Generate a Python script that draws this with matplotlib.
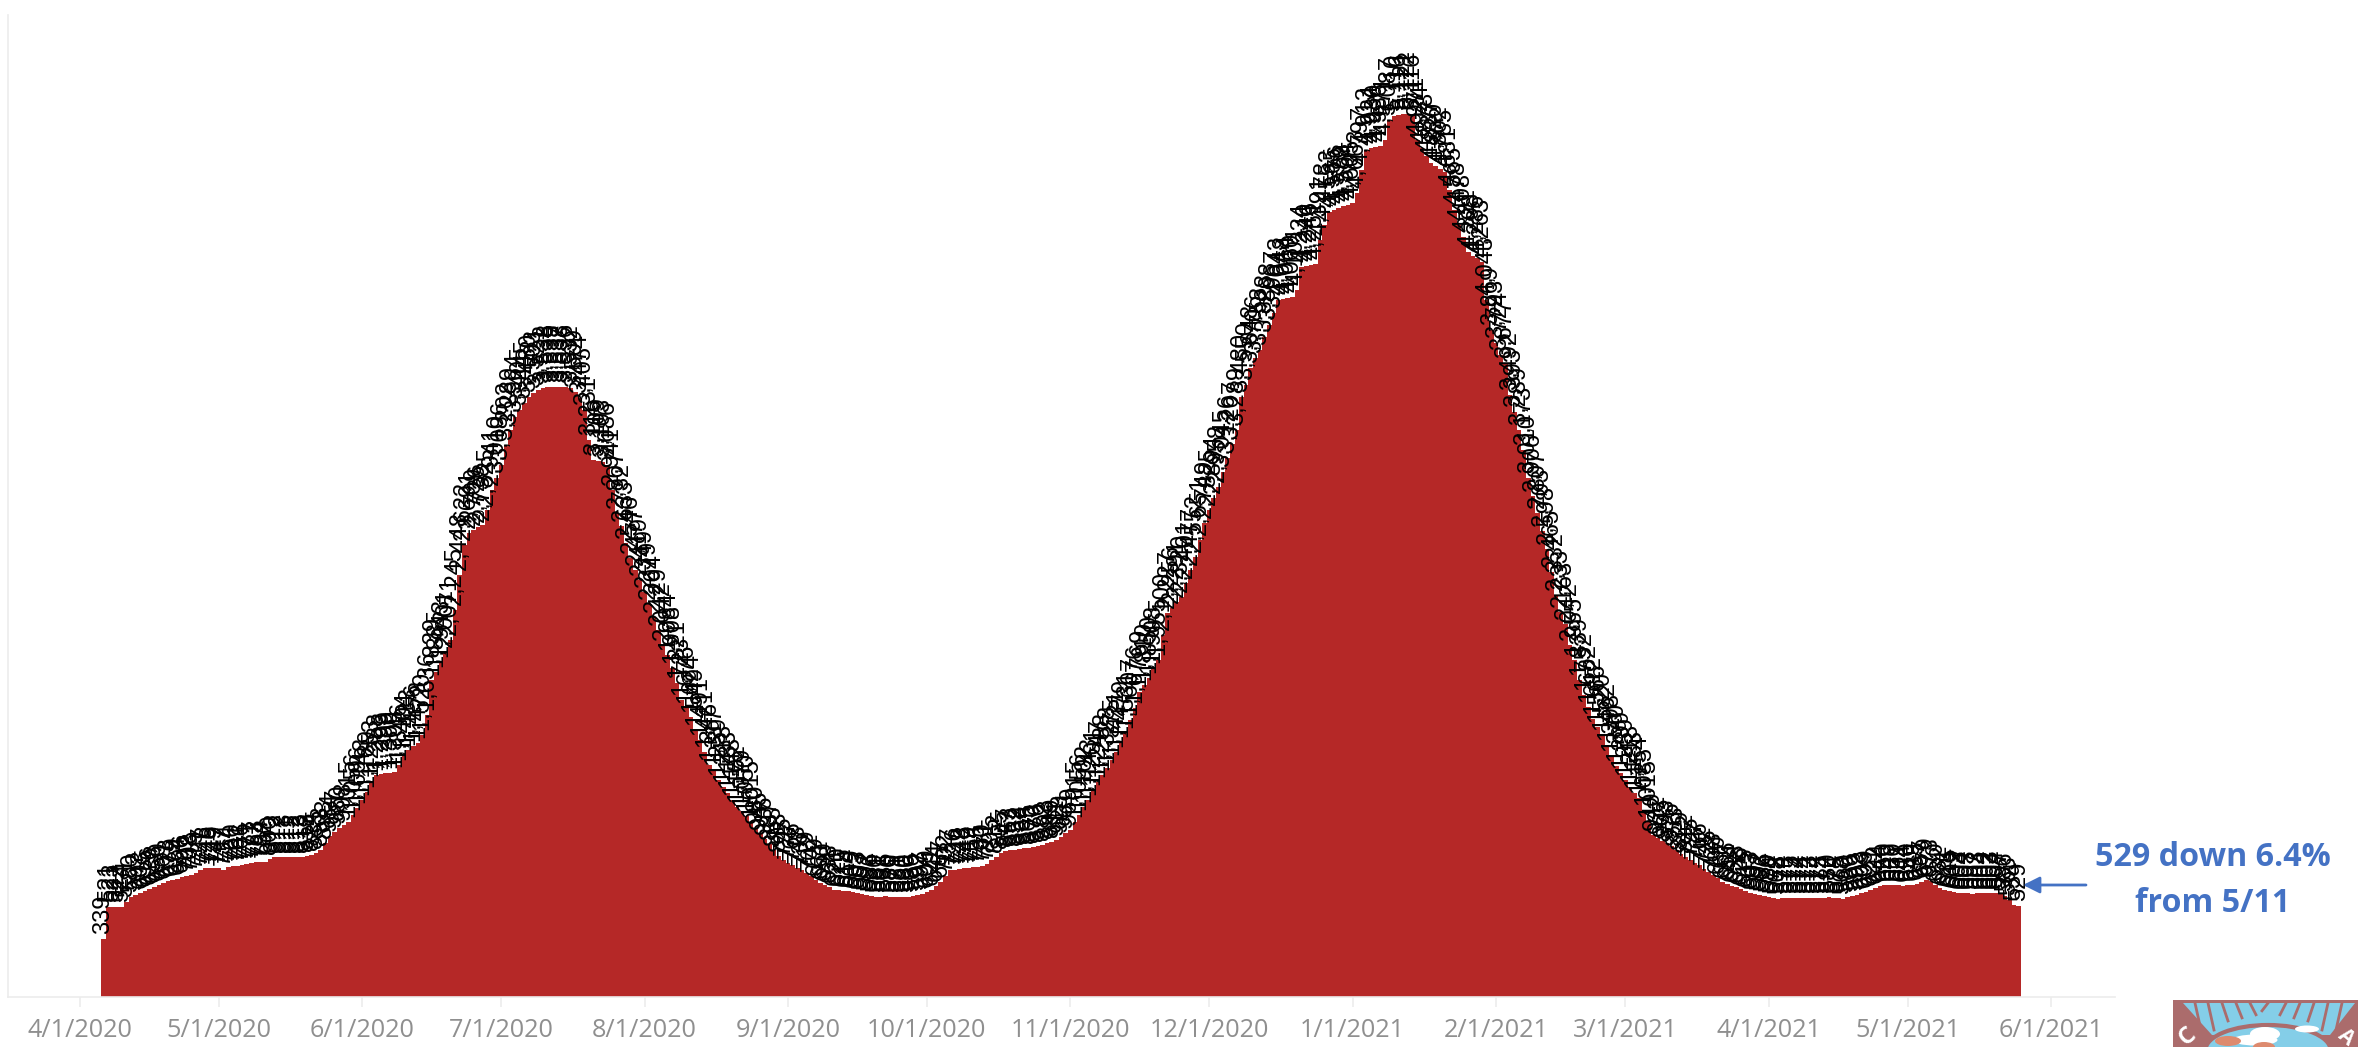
import pandas as pd
import matplotlib
matplotlib.use('Agg')
import matplotlib.pyplot as plt
from matplotlib.patches import Ellipse, Polygon, Rectangle

start_date = '2020-04-06'

values = [
    339, 521, 523, 522, 524, 551, 580, 592, 603, 615, 626, 638, 650, 661, 673, 679,
    684, 696, 702, 708, 719, 737, 748, 748, 749, 747, 737, 754, 760, 761, 766, 771,
    777, 783, 784, 782, 800, 812, 812, 813, 811, 812, 812, 813, 818, 824, 835, 853,
    893, 934, 957, 980, 998, 1015, 1056, 1096, 1143, 1189, 1253, 1288, 1293, 1299, 1300, 1305,
    1346, 1404, 1433, 1456, 1473, 1520, 1636, 1839, 1885, 1943, 2001, 2071, 2245, 2448, 2622, 2691,
    2709, 2726, 2738, 2825, 2941, 3010, 3086, 3202, 3289, 3364, 3405, 3445, 3480, 3503, 3521, 3532,
    3538, 3539, 3537, 3538, 3536, 3532, 3509, 3474, 3405, 3231, 3115, 3109, 3103, 3086, 2941, 2807,
    2732, 2633, 2546, 2477, 2419, 2349, 2279, 2204, 2129, 2042, 1984, 1908, 1821, 1723, 1676, 1624,
    1549, 1491, 1421, 1346, 1317, 1259, 1218, 1183, 1143, 1102, 1079, 1050, 1015, 980, 945, 916,
    887, 853, 818, 795, 777, 766, 748, 737, 719, 702, 679, 661, 650, 638, 621, 620,
    615, 614, 609, 603, 597, 592, 586, 580, 581, 586, 580, 579, 581, 580, 580, 586,
    592, 597, 609, 621, 644, 667, 702, 737, 736, 742, 748, 749, 754, 755, 760, 771,
    795, 812, 835, 847, 853, 852, 858, 864, 865, 870, 876, 882, 893, 899, 911, 928,
    951, 969, 1015, 1056, 1102, 1143, 1201, 1247, 1288, 1328, 1375, 1421, 1479, 1531, 1607, 1676,
    1769, 1810, 1850, 1908, 1955, 2100, 2227, 2256, 2291, 2320, 2401, 2477, 2552, 2651, 2749, 2825,
    2894, 2958, 3045, 3126, 3207, 3289, 3480, 3550, 3648, 3706, 3753, 3828, 3898, 3967, 4043, 4048,
    4054, 4060, 4101, 4234, 4240, 4246, 4251, 4391, 4478, 4553, 4565, 4576, 4588, 4594, 4605, 4663,
    4797, 4913, 4924, 4930, 4936, 4971, 5087, 5110, 5116, 5121, 5122, 5116, 4971, 4924, 4878, 4837,
    4820, 4802, 4785, 4681, 4565, 4478, 4408, 4321, 4298, 4286, 4263, 4043, 3869, 3793, 3724, 3677,
    3492, 3393, 3289, 3173, 3010, 2906, 2807, 2703, 2598, 2465, 2332, 2233, 2163, 2042, 1955, 1839,
    1752, 1682, 1612, 1566, 1520, 1462, 1398, 1340, 1299, 1259, 1218, 1183, 1154, 1085, 1015, 940,
    922, 905, 893, 876, 853, 829, 812, 795, 777, 766, 742, 725, 708, 690, 667, 655,
    644, 638, 626, 615, 603, 597, 592, 586, 580, 574, 568, 574, 573, 575, 574, 574,
    574, 573, 574, 575, 574, 580, 574, 575, 568, 580, 586, 592, 603, 609, 621, 632,
    644, 650, 649, 650, 651, 644, 650, 649, 655, 667, 679, 673, 650, 632, 621, 615,
    609, 603, 604, 603, 597, 603, 604, 602, 603, 604, 597, 586, 563, 534, 529,
]

tick_labels = ['4/1/2020', '5/1/2020', '6/1/2020', '7/1/2020', '8/1/2020', '9/1/2020', '10/1/2020',
               '11/1/2020', '12/1/2020', '1/1/2021', '2/1/2021', '3/1/2021', '4/1/2021', '5/1/2021', '6/1/2021']

W = 2358
H = 1047
dates = pd.date_range(start_date, periods=len(values))
tick_dates = pd.to_datetime(tick_labels, format='%m/%d/%Y')

fig = plt.figure(figsize=(W / 100, H / 100), dpi=100)

# axes box in pixels of the reference
left, right, top, bottom = 8, 2115, 15, 997
ax = fig.add_axes([left / W, 1 - bottom / H, (right - left) / W, (bottom - top) / H])

ax.bar(dates, values, width=1.0, color='#B52827', linewidth=0)

for d, v in zip(dates, values):
    ax.annotate(f'{v:,}', (d, v), xytext=(0, 3.5), textcoords='offset points', rotation=90,
                ha='center', va='bottom', fontsize=17, color='black',
                family='Liberation Sans', fontweight='light')

ax.set_xlim(pd.Timestamp('2020-04-01') - pd.Timedelta(days=15.6),
            pd.Timestamp('2020-04-01') + pd.Timedelta(days=439.8))
ax.set_ylim(0, (bottom - top) * 5.8)
ax.set_yticks([])
ax.set_xticks(tick_dates)
ax.set_xticklabels(tick_labels, family='Open Sans', fontsize=18.2, color='#8f8f8f')
ax.tick_params(axis='x', length=7, width=1.2, color='#ececec', pad=8)

for s in ['top', 'right']:
    ax.spines[s].set_visible(False)
for s in ['left', 'bottom']:
    ax.spines[s].set_color('#ececec')
    ax.spines[s].set_linewidth(1.2)

blue = '#4472C4'
fig.text(2213 / W, 1 - 858 / H, '529 down 6.4%', color=blue, fontsize=23.2, fontweight='bold',
         family='Open Sans', ha='center', va='center')
fig.text(2213 / W, 1 - 904 / H, 'from 5/11', color=blue, fontsize=23.2, fontweight='bold',
         family='Open Sans', ha='center', va='center')
ax.annotate('', xy=(2023, H - 885), xytext=(2086, H - 885), xycoords='figure pixels',
            textcoords='figure pixels',
            arrowprops=dict(arrowstyle='-|>,head_length=1.0,head_width=0.5', color=blue, lw=2,
                            shrinkA=0, shrinkB=0))

# cropped logo in the bottom right corner
lg = fig.add_axes([2173 / W, 0, (W - 2173) / W, 47 / H])
lg.set_xlim(2173, 2358)
lg.set_ylim(1047, 1000)
lg.axis('off')
lg.add_patch(Rectangle((2173, 1000), 185, 47, color='#AB6C6C', lw=0))
lg.add_patch(Polygon([(2183, 1003), (2355, 1003), (2330, 1035), (2212, 1035)], color='#84CEE8', lw=0))
lg.add_patch(Ellipse((2268, 1050), 125, 50, facecolor='#84CEE8', edgecolor='#AB6C6C', lw=3))
for x in [2195, 2208, 2222, 2236, 2250, 2268, 2286, 2300, 2314, 2328, 2342]:
    tilt = 6 if x < 2268 else -6
    lg.plot([x, x + tilt], [1003, 1030 if abs(x - 2268) > 50 else 1024 - (60 - abs(x - 2268)) * 0.22],
            color='#AB6C6C', lw=2)
lg.add_patch(Ellipse((2255, 1040), 45, 11, color='white', lw=0))
lg.add_patch(Ellipse((2265, 1034), 30, 14, color='white', lw=0))
lg.add_patch(Ellipse((2307, 1029), 24, 7, color='white', lw=0))
lg.add_patch(Ellipse((2228, 1041), 26, 10, color='#DD8A6E', lw=0))
lg.add_patch(Ellipse((2264, 1047), 22, 10, color='#DD8A6E', lw=0))
lg.text(2188, 1037, 'C', color='white', fontsize=17, fontweight='bold', rotation=40,
        ha='center', va='center', family='Open Sans')
lg.text(2346, 1037, 'A', color='white', fontsize=15, fontweight='bold', rotation=-40,
        ha='center', va='center', family='Open Sans')

fig.savefig('out.png', dpi=100)
